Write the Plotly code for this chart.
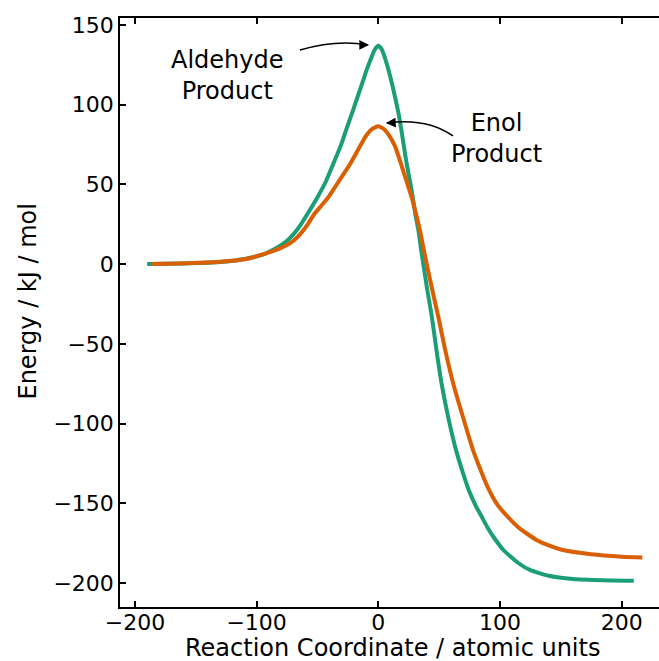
import plotly.graph_objects as go

# Aldehyde product path
ald_x = [-190, -160, -130, -110, -95, -83, -76, -70, -64, -57, -50, -43, -37, -31, -26.5, -21, -17, -13,
         -9.5, -6, -3, 0, 3, 6, 8.3, 11, 13.7, 16.5, 19, 21, 23.3, 26, 28.3, 30.5, 33, 35, 37,
         40, 44, 48, 52, 58, 64, 70, 75, 80, 85, 90, 95, 103, 115, 125, 140, 160, 185, 210]
ald_y = [0, 0.4, 1.3, 3.2, 6, 10.5, 14, 18.5, 24.5, 33, 42, 52, 63, 74, 84, 96, 105, 114,
         122, 129, 134.5, 137, 134.5, 128, 122, 114, 105, 95, 84, 74, 63, 52, 42, 31, 21, 10, 0,
         -15, -33, -55, -75, -98, -117, -132, -143, -151.5, -158.5, -165.5, -171.5, -179.5, -187.5, -192, -195.5, -197.5, -198.3, -198.6]

# Enol product path
enol_x = [-186, -163, -130, -110, -89, -75, -70, -64, -58, -53, -47, -41, -35, -29, -23, -19, -15,
          -10, -5, 0, 5, 9.5, 13.7, 18.6, 23, 27.4, 31, 34.3, 37, 39.8,
          44, 49.3, 55, 61.6, 70, 78, 84, 90, 98, 107, 115, 122, 130, 140, 150, 175, 200, 217]
enol_y = [0, 0.4, 1.5, 3.0, 7.5, 12, 14.5, 19, 25, 31, 36.5, 42, 49, 56, 63, 68.5, 74,
          80.5, 84.8, 86.5, 84.5, 80, 74, 63, 52.5, 42, 31.5, 21, 10.5, 0,
          -15, -33, -54, -75, -97, -117, -129, -140, -151, -159, -165, -169, -173, -176.5, -179, -182, -183.5, -184]

x_ticks = [-200, -100, 0, 100, 200]
y_ticks = [-200, -150, -100, -50, 0, 50, 100, 150]

FONT = "DejaVu Sans"

fig = go.Figure()
fig.add_trace(go.Scatter(x=ald_x, y=ald_y, mode="lines",
                         line=dict(color="#1b9e77", width=4, shape="spline", smoothing=0.5),
                         showlegend=False))
fig.add_trace(go.Scatter(x=enol_x, y=enol_y, mode="lines",
                         line=dict(color="#d95f02", width=4, shape="spline", smoothing=0.5),
                         showlegend=False))

# curved arrow paths
fig.add_shape(type="path", xref="x", yref="y",
              path="M -64.4,134.3 Q -35,141 -9,137.6",
              line=dict(color="black", width=1.5))
fig.add_shape(type="path", xref="x", yref="y",
              path="M 61.4,80.4 Q 40,92 7,88.6",
              line=dict(color="black", width=1.5))
# arrow heads
fig.add_annotation(x=-7.6, y=137.5, ax=-16, ay=137.5, axref="x", ayref="y", xref="x", yref="y",
                   text="", showarrow=True, arrowhead=2, arrowsize=1.3, arrowwidth=1.5, arrowcolor="black")
fig.add_annotation(x=6.3, y=88.5, ax=14, ay=88.8, axref="x", ayref="y", xref="x", yref="y",
                   text="", showarrow=True, arrowhead=2, arrowsize=1.3, arrowwidth=1.5, arrowcolor="black")

fig.add_annotation(x=-124.3, y=118.3, xref="x", yref="y", text="Aldehyde<br>Product",
                   showarrow=False, font=dict(family=FONT, size=24, color="black"))
fig.add_annotation(x=97.5, y=78.5, xref="x", yref="y", text="Enol<br>Product",
                   showarrow=False, font=dict(family=FONT, size=24, color="black"))

# axis titles (plot area: x 120..659 px, y 18..607 px)
def px_x(px):
    return (px - 120) / 539.0

def px_y(py):
    return (607 - py) / 589.0

fig.add_annotation(x=px_x(393), y=px_y(648), xref="paper", yref="paper",
                   text="Reaction Coordinate / atomic units", showarrow=False,
                   xanchor="center", yanchor="middle",
                   font=dict(family=FONT, size=24, color="black"))
fig.add_annotation(x=px_x(27), y=px_y(301.5), xref="paper", yref="paper",
                   text="Energy / kJ / mol", showarrow=False, textangle=-90,
                   xanchor="center", yanchor="middle",
                   font=dict(family=FONT, size=24, color="black"))

fig.update_layout(
    width=659, height=661,
    margin=dict(l=120, r=0, t=18, b=54),
    paper_bgcolor="white", plot_bgcolor="white",
    font=dict(family=FONT, size=22, color="black"),
    xaxis=dict(range=[-212.3, 230.7], tickvals=x_ticks, ticks="inside", ticklen=6, tickwidth=1.5,
               tickcolor="black", showline=True, linecolor="black", linewidth=1.5, mirror="ticks",
               showgrid=False, zeroline=False, ticklabelstandoff=-5),
    yaxis=dict(range=[-215.1, 154.4], tickvals=y_ticks, ticks="inside", ticklen=6, tickwidth=1.5,
               tickcolor="black", showline=True, linecolor="black", linewidth=1.5, mirror=False,
               showgrid=False, zeroline=False),
)

fig.write_html("out.html")
